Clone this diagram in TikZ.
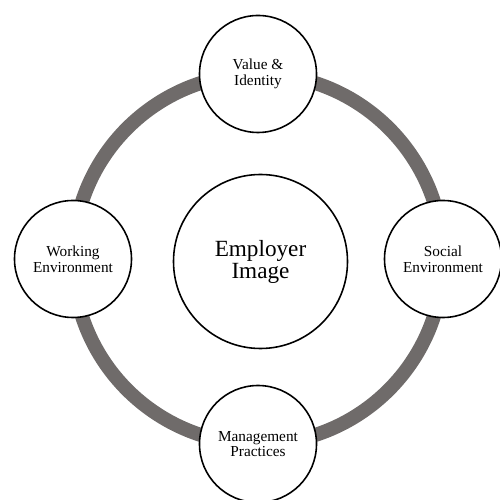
\documentclass[tikz,border=0pt]{standalone}
\usepackage{fontspec}
\setmainfont{Liberation Serif}
\usetikzlibrary{positioning}
\definecolor{RingGray}{HTML}{6F6B6A}
\tikzset{
  outer/.style={shape=circle,draw=black,line width=0.9pt,fill=white,
    minimum size=2.34cm,inner sep=0pt,align=center,
    font=\fontsize{8.7}{9}\selectfont},
  center/.style={shape=circle,draw=black,line width=0.9pt,fill=white,
    minimum size=3.48cm,inner sep=0pt,align=center,
    font=\fontsize{13.2}{12.5}\selectfont},
  ring/.style={draw=RingGray,line width=8pt}
}

\begin{document}
\begin{tikzpicture}

  \useasboundingbox (-5.16,-4.82) rectangle (4.84,5.18);
  \coordinate (Origin) at (0,0);

  % the grey ring behind everything
  \draw [ring] (Origin) circle (3.7);

  % middle node
  \node[center] (Employer) at (0.05,-0.05) {Employer\\Image};

  % the four outer nodes
  \node[outer] (Value)      at (90:3.7)  {Value \&\\Identity};
  \node[outer] (Social)     at (0:3.7)   {Social\\Environment};
  \node[outer] (Management) at (270:3.7) {Management\\Practices};
  \node[outer] (Working)    at (180:3.7) {Working\\Environment};

\end{tikzpicture}
\end{document}
